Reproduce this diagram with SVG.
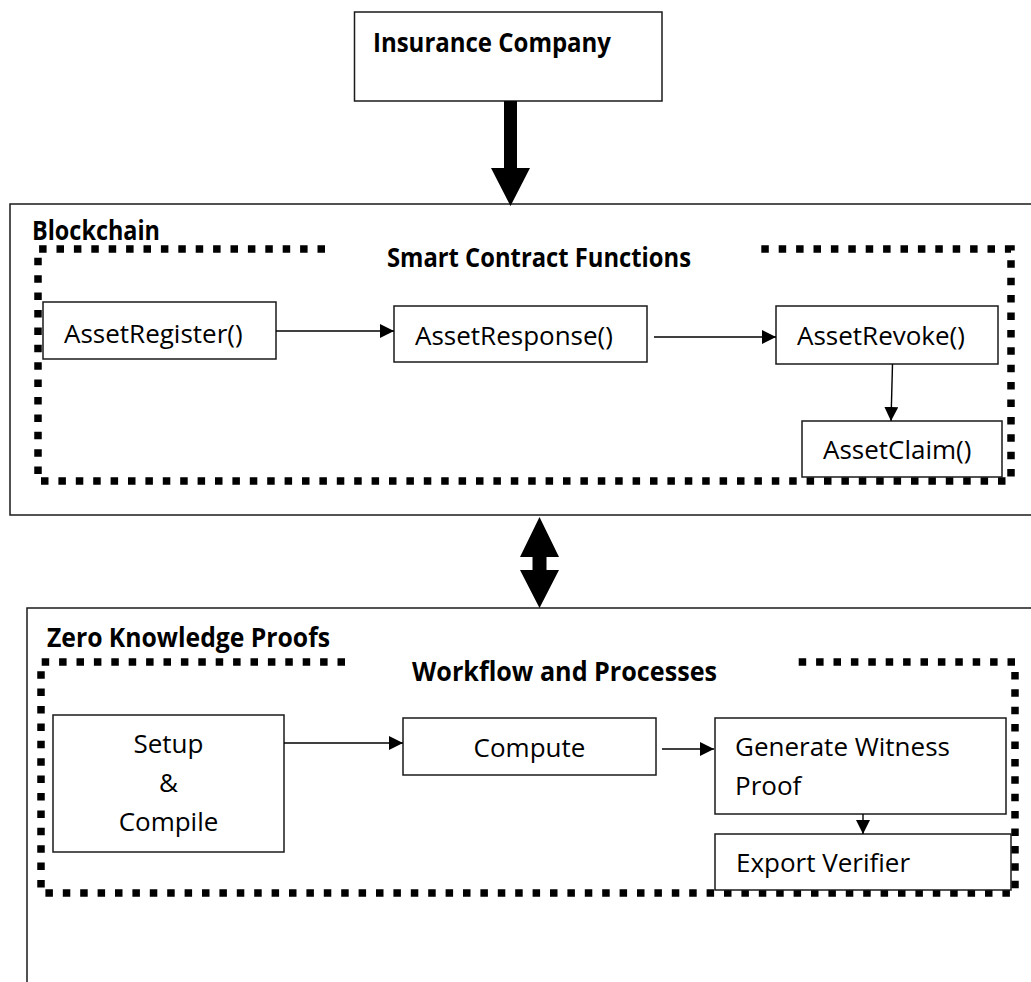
<svg xmlns="http://www.w3.org/2000/svg" width="1031" height="982" viewBox="0 0 1031 982">
<defs>
<marker id="ah" markerUnits="userSpaceOnUse" markerWidth="14" markerHeight="14" refX="14" refY="7" orient="auto">
<path d="M0,0 L14,7 L0,14 z" fill="#000"/>
</marker>
</defs>
<style>
.box{fill:#fff;stroke:#1a1a1a;stroke-width:1.5}
.cont{fill:none;stroke:#1a1a1a;stroke-width:1.5}
.dots{fill:none;stroke:#000;stroke-width:7.5;stroke-dasharray:7.5 9.9}
.t{font-family:"Open Sans","Liberation Sans",sans-serif;font-size:26px;fill:#000}
.b{font-family:"Open Sans","Liberation Sans",sans-serif;font-size:26px;font-weight:bold;fill:#000}
.c{stroke:#000;stroke-width:1.4;fill:none;marker-end:url(#ah)}
</style>
<rect width="1031" height="982" fill="#fff"/>

<g id="blockchain">
<rect class="cont" x="10" y="204" width="1040" height="311"/>
<text class="b" x="32" y="240" textLength="128" lengthAdjust="spacingAndGlyphs">Blockchain</text>
</g>
<g id="smart-contract-functions">
<path class="dots" d="M325,249 H38 V481 H1011 V249 H756"/>
<text class="b" x="387" y="267" textLength="304" lengthAdjust="spacingAndGlyphs">Smart Contract Functions</text>
</g>

<g id="zkp">
<rect class="cont" x="27" y="608" width="1020" height="420"/>
<text class="b" x="47" y="647" textLength="283" lengthAdjust="spacingAndGlyphs">Zero Knowledge Proofs</text>
</g>
<g id="workflow-and-processes">
<path class="dots" d="M345,662 H41 V893 H1015 V662 H790"/>
<text class="b" x="412" y="681" textLength="305" lengthAdjust="spacingAndGlyphs">Workflow and Processes</text>
</g>

<g id="insurance-company">
<rect class="box" x="354.5" y="12" width="307.5" height="89"/>
<text class="b" x="373" y="52" textLength="238" lengthAdjust="spacingAndGlyphs">Insurance Company</text>
</g>

<g id="asset-register">
<rect class="box" x="43" y="302" width="233" height="57"/>
<text class="t" x="64" y="343">AssetRegister()</text>
</g>
<g id="asset-response">
<rect class="box" x="394" y="306" width="253" height="56"/>
<text class="t" x="415" y="345">AssetResponse()</text>
</g>
<g id="asset-revoke">
<rect class="box" x="776" y="306" width="222" height="58"/>
<text class="t" x="797" y="345">AssetRevoke()</text>
</g>
<g id="asset-claim">
<rect class="box" x="802" y="421" width="200" height="56"/>
<text class="t" x="823" y="459">AssetClaim()</text>
</g>

<g id="setup-compile">
<rect class="box" x="53" y="715" width="231" height="137"/>
<text class="t" x="168.5" y="753" text-anchor="middle">Setup</text>
<text class="t" x="168.5" y="792" text-anchor="middle">&amp;</text>
<text class="t" x="168.5" y="831" text-anchor="middle">Compile</text>
</g>
<g id="compute">
<rect class="box" x="403" y="718" width="253" height="57"/>
<text class="t" x="529.5" y="757" text-anchor="middle">Compute</text>
</g>
<g id="generate-witness-proof">
<rect class="box" x="715" y="718" width="291" height="96"/>
<text class="t" x="735" y="756">Generate Witness</text>
<text class="t" x="735" y="795">Proof</text>
</g>
<g id="export-verifier">
<rect class="box" x="715" y="834" width="296" height="56"/>
<text class="t" x="736" y="872">Export Verifier</text>
</g>

<g id="connectors">
<polygon points="504,101 517,101 517,168 530,168 510.5,206 491,168 504,168" fill="#000"/>
<polygon points="539.5,517 559,557 546.5,557 546.5,570 559,570 539.5,608 520,570 532.5,570 532.5,557 520,557" fill="#000"/>
<line class="c" x1="276" y1="331" x2="394" y2="331"/>
<line class="c" x1="654" y1="337" x2="776" y2="337"/>
<line class="c" x1="892.5" y1="364" x2="891" y2="421"/>
<line class="c" x1="284" y1="743" x2="403" y2="743"/>
<line class="c" x1="662" y1="749" x2="714" y2="749"/>
<line class="c" x1="863" y1="814" x2="863" y2="834"/>
</g>
</svg>
